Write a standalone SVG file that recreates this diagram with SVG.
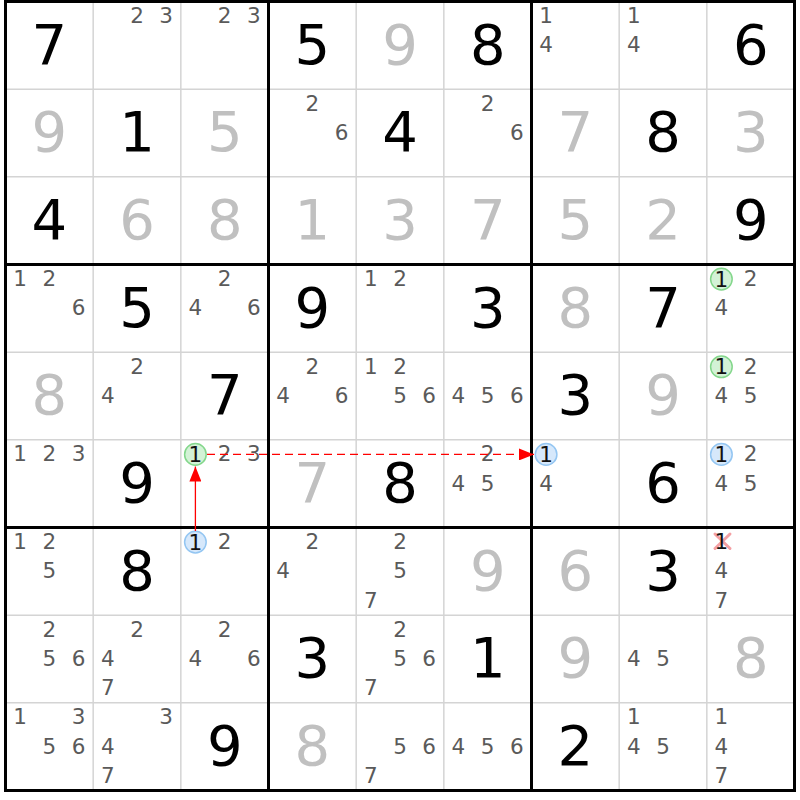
<svg xmlns="http://www.w3.org/2000/svg" width="800" height="800" viewBox="0 0 800 800">
<style>
.bg{fill:#ffffff}
.thin{stroke:#d4d4d4;stroke-width:1.5}
.thick{stroke:#000;stroke-width:3;fill:none}
.g{font-family:"DejaVu Sans","Liberation Sans",sans-serif;font-size:56px;fill:#000;text-anchor:middle}
.s{font-family:"DejaVu Sans","Liberation Sans",sans-serif;font-size:56px;fill:#c0c0c0;text-anchor:middle}
.p{font-family:"DejaVu Sans","Liberation Sans",sans-serif;font-size:21.5px;fill:#5a5a5a;text-anchor:middle}
.pk{font-family:"DejaVu Sans","Liberation Sans",sans-serif;font-size:21.5px;fill:#111;text-anchor:middle}
.cg{fill:#d3f2d6;stroke:#84d78c;stroke-width:1.5}
.cb{fill:#d6e8fb;stroke:#94c6f2;stroke-width:1.5}
.x{stroke:#f4a0a4;stroke-width:3;stroke-linecap:round}
.arr{stroke:#ff0000;stroke-width:1.3;fill:none}
</style>
<defs>
<marker id="ah" viewBox="0 0 15 12" refX="15" refY="6" markerWidth="15" markerHeight="12" markerUnits="userSpaceOnUse" orient="auto">
<path d="M0,0 L15,6 L0,12 z" fill="#ff0000"/>
</marker>
</defs>
<rect class="bg" x="0" y="0" width="800" height="800"/>
<g id="grid">
<line class="thin" x1="93.17" y1="1.5" x2="93.17" y2="790.5"/>
<line class="thin" x1="180.83" y1="1.5" x2="180.83" y2="790.5"/>
<line class="thin" x1="356.17" y1="1.5" x2="356.17" y2="790.5"/>
<line class="thin" x1="443.83" y1="1.5" x2="443.83" y2="790.5"/>
<line class="thin" x1="619.17" y1="1.5" x2="619.17" y2="790.5"/>
<line class="thin" x1="706.83" y1="1.5" x2="706.83" y2="790.5"/>
<line class="thin" x1="5.5" y1="89.17" x2="794.5" y2="89.17"/>
<line class="thin" x1="5.5" y1="176.83" x2="794.5" y2="176.83"/>
<line class="thin" x1="5.5" y1="352.17" x2="794.5" y2="352.17"/>
<line class="thin" x1="5.5" y1="439.83" x2="794.5" y2="439.83"/>
<line class="thin" x1="5.5" y1="615.17" x2="794.5" y2="615.17"/>
<line class="thin" x1="5.5" y1="702.83" x2="794.5" y2="702.83"/>
<line class="thick" x1="268.5" y1="1.5" x2="268.5" y2="790.5"/>
<line class="thick" x1="531.5" y1="1.5" x2="531.5" y2="790.5"/>
<line class="thick" x1="5.5" y1="264.5" x2="794.5" y2="264.5"/>
<line class="thick" x1="5.5" y1="527.5" x2="794.5" y2="527.5"/>
<rect class="thick" x="5.5" y="1.5" width="789" height="789"/>
</g>
<g id="r0">
<g id="c00"><text class="g" x="49.3" y="63.5">7</text></g>
<g id="c01"><text class="p" x="137.0" y="23.1">2</text><text class="p" x="166.2" y="23.1">3</text></g>
<g id="c02"><text class="p" x="224.7" y="23.1">2</text><text class="p" x="253.9" y="23.1">3</text></g>
<g id="c03"><text class="g" x="312.3" y="63.5">5</text></g>
<g id="c04"><text class="s" x="400.0" y="63.5">9</text></g>
<g id="c05"><text class="g" x="487.7" y="63.5">8</text></g>
<g id="c06"><text class="p" x="546.1" y="23.1">1</text><text class="p" x="546.1" y="52.3">4</text></g>
<g id="c07"><text class="p" x="633.8" y="23.1">1</text><text class="p" x="633.8" y="52.3">4</text></g>
<g id="c08"><text class="g" x="750.7" y="63.5">6</text></g>
</g>
<g id="r1">
<g id="c10"><text class="s" x="49.3" y="151.2">9</text></g>
<g id="c11"><text class="g" x="137.0" y="151.2">1</text></g>
<g id="c12"><text class="s" x="224.7" y="151.2">5</text></g>
<g id="c13"><text class="p" x="312.3" y="110.8">2</text><text class="p" x="341.6" y="140.0">6</text></g>
<g id="c14"><text class="g" x="400.0" y="151.2">4</text></g>
<g id="c15"><text class="p" x="487.7" y="110.8">2</text><text class="p" x="516.9" y="140.0">6</text></g>
<g id="c16"><text class="s" x="575.3" y="151.2">7</text></g>
<g id="c17"><text class="g" x="663.0" y="151.2">8</text></g>
<g id="c18"><text class="s" x="750.7" y="151.2">3</text></g>
</g>
<g id="r2">
<g id="c20"><text class="g" x="49.3" y="238.8">4</text></g>
<g id="c21"><text class="s" x="137.0" y="238.8">6</text></g>
<g id="c22"><text class="s" x="224.7" y="238.8">8</text></g>
<g id="c23"><text class="s" x="312.3" y="238.8">1</text></g>
<g id="c24"><text class="s" x="400.0" y="238.8">3</text></g>
<g id="c25"><text class="s" x="487.7" y="238.8">7</text></g>
<g id="c26"><text class="s" x="575.3" y="238.8">5</text></g>
<g id="c27"><text class="s" x="663.0" y="238.8">2</text></g>
<g id="c28"><text class="g" x="750.7" y="238.8">9</text></g>
</g>
<g id="r3">
<g id="c30"><text class="p" x="20.1" y="286.1">1</text><text class="p" x="49.3" y="286.1">2</text><text class="p" x="78.6" y="315.3">6</text></g>
<g id="c31"><text class="g" x="137.0" y="326.5">5</text></g>
<g id="c32"><text class="p" x="224.7" y="286.1">2</text><text class="p" x="195.4" y="315.3">4</text><text class="p" x="253.9" y="315.3">6</text></g>
<g id="c33"><text class="g" x="312.3" y="326.5">9</text></g>
<g id="c34"><text class="p" x="370.8" y="286.1">1</text><text class="p" x="400.0" y="286.1">2</text></g>
<g id="c35"><text class="g" x="487.7" y="326.5">3</text></g>
<g id="c36"><text class="s" x="575.3" y="326.5">8</text></g>
<g id="c37"><text class="g" x="663.0" y="326.5">7</text></g>
<g id="c38"><circle class="cg" cx="721.4" cy="279.1" r="10.8"/><text class="pk" x="721.4" y="286.6">1</text><text class="p" x="750.7" y="286.1">2</text><text class="p" x="721.4" y="315.3">4</text></g>
</g>
<g id="r4">
<g id="c40"><text class="s" x="49.3" y="414.2">8</text></g>
<g id="c41"><text class="p" x="137.0" y="373.8">2</text><text class="p" x="107.8" y="403.0">4</text></g>
<g id="c42"><text class="g" x="224.7" y="414.2">7</text></g>
<g id="c43"><text class="p" x="312.3" y="373.8">2</text><text class="p" x="283.1" y="403.0">4</text><text class="p" x="341.6" y="403.0">6</text></g>
<g id="c44"><text class="p" x="370.8" y="373.8">1</text><text class="p" x="400.0" y="373.8">2</text><text class="p" x="400.0" y="403.0">5</text><text class="p" x="429.2" y="403.0">6</text></g>
<g id="c45"><text class="p" x="458.4" y="403.0">4</text><text class="p" x="487.7" y="403.0">5</text><text class="p" x="516.9" y="403.0">6</text></g>
<g id="c46"><text class="g" x="575.3" y="414.2">3</text></g>
<g id="c47"><text class="s" x="663.0" y="414.2">9</text></g>
<g id="c48"><circle class="cg" cx="721.4" cy="366.8" r="10.8"/><text class="pk" x="721.4" y="374.3">1</text><text class="p" x="750.7" y="373.8">2</text><text class="p" x="721.4" y="403.0">4</text><text class="p" x="750.7" y="403.0">5</text></g>
</g>
<g id="r5">
<g id="c50"><text class="p" x="20.1" y="461.4">1</text><text class="p" x="49.3" y="461.4">2</text><text class="p" x="78.6" y="461.4">3</text></g>
<g id="c51"><text class="g" x="137.0" y="501.8">9</text></g>
<g id="c52"><circle class="cg" cx="195.4" cy="454.4" r="10.8"/><text class="pk" x="195.4" y="461.9">1</text><text class="p" x="224.7" y="461.4">2</text><text class="p" x="253.9" y="461.4">3</text></g>
<g id="c53"><text class="s" x="312.3" y="501.8">7</text></g>
<g id="c54"><text class="g" x="400.0" y="501.8">8</text></g>
<g id="c55"><text class="p" x="487.7" y="461.4">2</text><text class="p" x="458.4" y="490.6">4</text><text class="p" x="487.7" y="490.6">5</text></g>
<g id="c56"><circle class="cb" cx="546.1" cy="454.4" r="10.8"/><text class="pk" x="546.1" y="461.9">1</text><text class="p" x="546.1" y="490.6">4</text></g>
<g id="c57"><text class="g" x="663.0" y="501.8">6</text></g>
<g id="c58"><circle class="cb" cx="721.4" cy="454.4" r="10.8"/><text class="pk" x="721.4" y="461.9">1</text><text class="p" x="750.7" y="461.4">2</text><text class="p" x="721.4" y="490.6">4</text><text class="p" x="750.7" y="490.6">5</text></g>
</g>
<g id="r6">
<g id="c60"><text class="p" x="20.1" y="549.1">1</text><text class="p" x="49.3" y="549.1">2</text><text class="p" x="49.3" y="578.3">5</text></g>
<g id="c61"><text class="g" x="137.0" y="589.5">8</text></g>
<g id="c62"><circle class="cb" cx="195.4" cy="542.1" r="10.8"/><text class="pk" x="195.4" y="549.6">1</text><text class="p" x="224.7" y="549.1">2</text></g>
<g id="c63"><text class="p" x="312.3" y="549.1">2</text><text class="p" x="283.1" y="578.3">4</text></g>
<g id="c64"><text class="p" x="400.0" y="549.1">2</text><text class="p" x="400.0" y="578.3">5</text><text class="p" x="370.8" y="607.6">7</text></g>
<g id="c65"><text class="s" x="487.7" y="589.5">9</text></g>
<g id="c66"><text class="s" x="575.3" y="589.5">6</text></g>
<g id="c67"><text class="g" x="663.0" y="589.5">3</text></g>
<g id="c68"><line class="x" x1="715" y1="534" x2="730" y2="548.5"/><line class="x" x1="730" y1="534" x2="715" y2="548.5"/><text class="pk" x="721.4" y="549.1">1</text><text class="p" x="721.4" y="578.3">4</text><text class="p" x="721.4" y="607.6">7</text></g>
</g>
<g id="r7">
<g id="c70"><text class="p" x="49.3" y="636.8">2</text><text class="p" x="49.3" y="666.0">5</text><text class="p" x="78.6" y="666.0">6</text></g>
<g id="c71"><text class="p" x="137.0" y="636.8">2</text><text class="p" x="107.8" y="666.0">4</text><text class="p" x="107.8" y="695.3">7</text></g>
<g id="c72"><text class="p" x="224.7" y="636.8">2</text><text class="p" x="195.4" y="666.0">4</text><text class="p" x="253.9" y="666.0">6</text></g>
<g id="c73"><text class="g" x="312.3" y="677.2">3</text></g>
<g id="c74"><text class="p" x="400.0" y="636.8">2</text><text class="p" x="400.0" y="666.0">5</text><text class="p" x="429.2" y="666.0">6</text><text class="p" x="370.8" y="695.3">7</text></g>
<g id="c75"><text class="g" x="487.7" y="677.2">1</text></g>
<g id="c76"><text class="s" x="575.3" y="677.2">9</text></g>
<g id="c77"><text class="p" x="633.8" y="666.0">4</text><text class="p" x="663.0" y="666.0">5</text></g>
<g id="c78"><text class="s" x="750.7" y="677.2">8</text></g>
</g>
<g id="r8">
<g id="c80"><text class="p" x="20.1" y="724.4">1</text><text class="p" x="78.6" y="724.4">3</text><text class="p" x="49.3" y="753.6">5</text><text class="p" x="78.6" y="753.6">6</text></g>
<g id="c81"><text class="p" x="166.2" y="724.4">3</text><text class="p" x="107.8" y="753.6">4</text><text class="p" x="107.8" y="782.9">7</text></g>
<g id="c82"><text class="g" x="224.7" y="764.8">9</text></g>
<g id="c83"><text class="s" x="312.3" y="764.8">8</text></g>
<g id="c84"><text class="p" x="400.0" y="753.6">5</text><text class="p" x="429.2" y="753.6">6</text><text class="p" x="370.8" y="782.9">7</text></g>
<g id="c85"><text class="p" x="458.4" y="753.6">4</text><text class="p" x="487.7" y="753.6">5</text><text class="p" x="516.9" y="753.6">6</text></g>
<g id="c86"><text class="g" x="575.3" y="764.8">2</text></g>
<g id="c87"><text class="p" x="633.8" y="724.4">1</text><text class="p" x="633.8" y="753.6">4</text><text class="p" x="663.0" y="753.6">5</text></g>
<g id="c88"><text class="p" x="721.4" y="724.4">1</text><text class="p" x="721.4" y="753.6">4</text><text class="p" x="721.4" y="782.9">7</text></g>
</g>
<g id="connectors">
<line class="arr" x1="195.4" y1="531" x2="195.4" y2="466.5" marker-end="url(#ah)"/>
<line class="arr" x1="207" y1="454.4" x2="534" y2="454.4" stroke-dasharray="8 5" marker-end="url(#ah)"/>
</g>
</svg>
